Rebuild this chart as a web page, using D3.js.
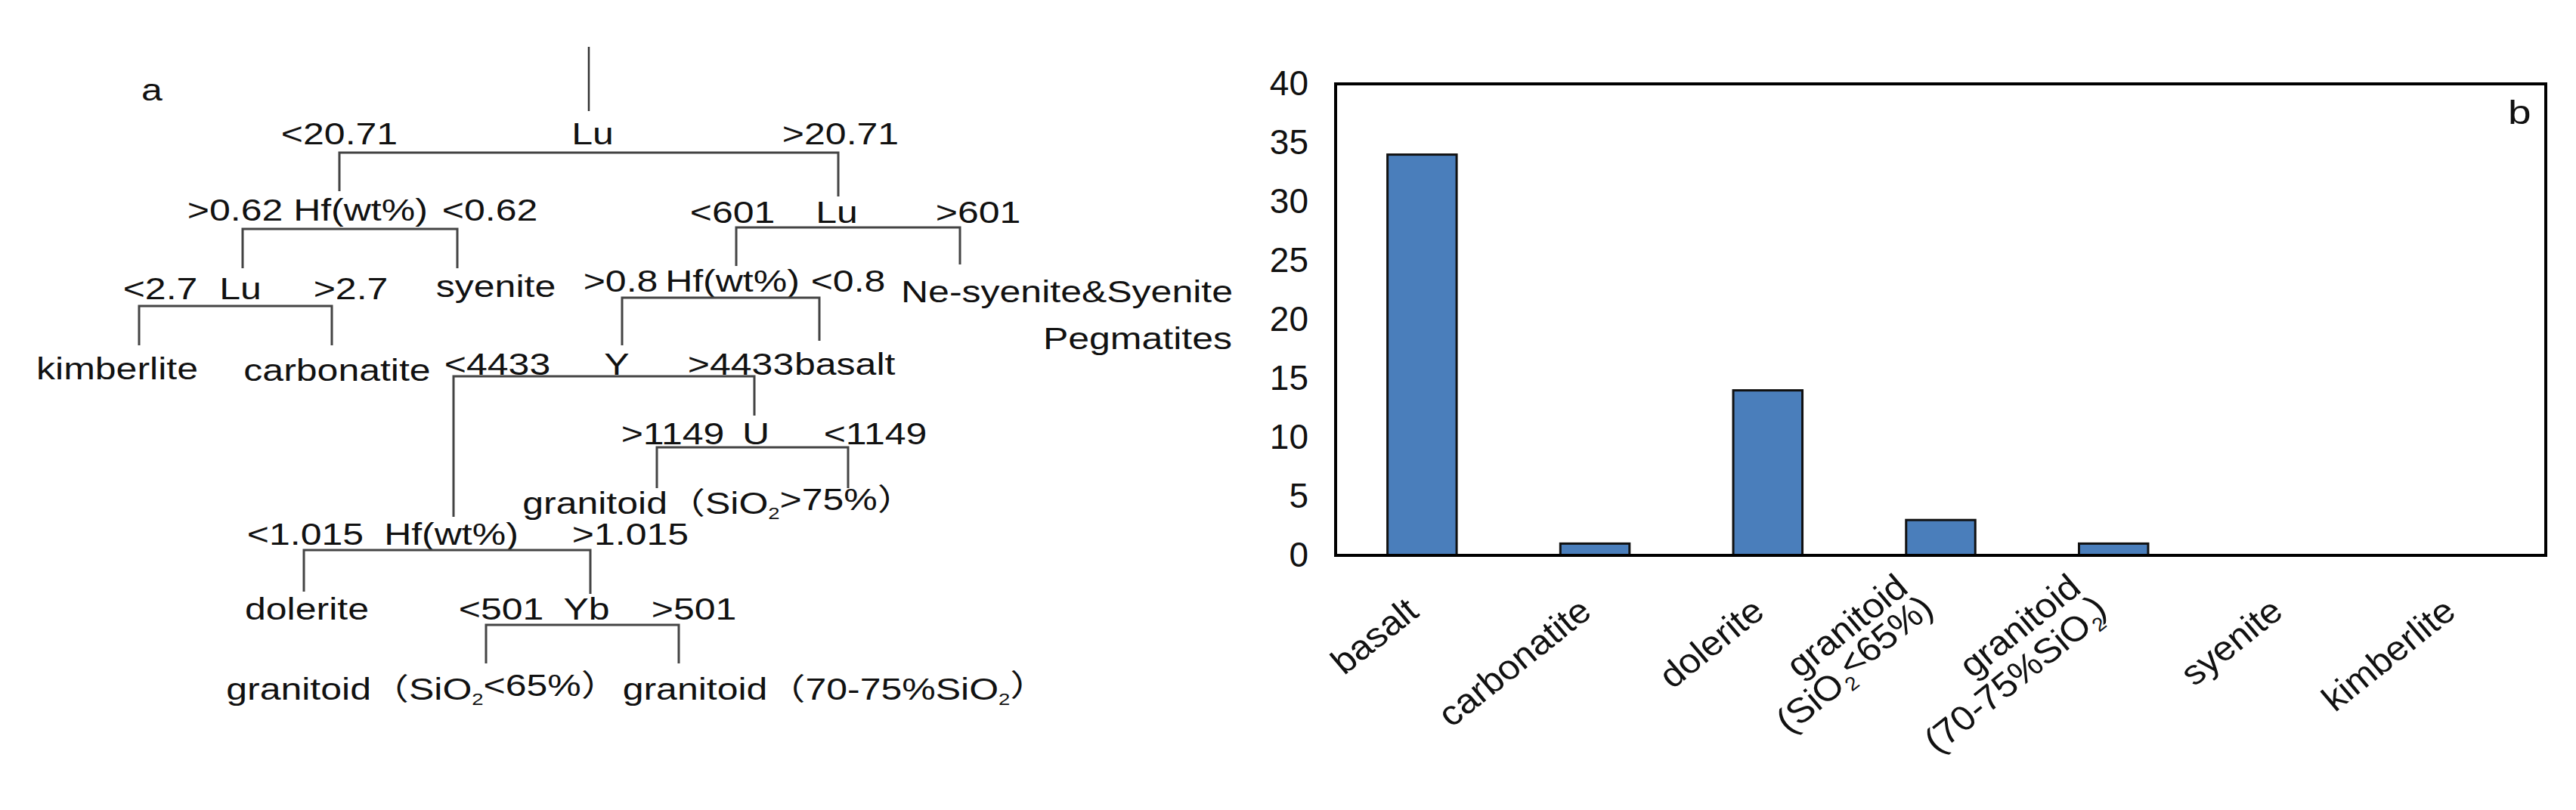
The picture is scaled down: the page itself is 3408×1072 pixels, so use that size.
<!DOCTYPE html>
<html lang="en">
<head>
<meta charset="UTF-8">
<title>Decision tree and zircon classes</title>
<style>
  body { margin: 0; background: #fff; }
  text { font-family: "Liberation Sans", Arial, "Noto Sans CJK SC", sans-serif; fill: #111; }
</style>
</head>
<body>
<svg id="svg" width="3408" height="1072"></svg>
<script src="https://d3js.org/d3.v7.min.js"></script>
<script>
// ---- panel b data
const categories = ['basalt', 'carbonatite', 'dolerite', 'granitoid65', 'granitoid7075', 'syenite', 'kimberlite']
const counts = [34, 1, 14, 3, 1, 0, 0]
const yTicks = [0, 5, 10, 15, 20, 25, 30, 35, 40]
// label lines; [text, subscript, rest]
const catLabels = [
    [['basalt']],
    [['carbonatite']],
    [['dolerite']],
    [['granitoid'], ['(SiO', '2', '<65%)']],
    [['granitoid'], ['(70-75%SiO', '2', ')']],
    [['syenite']],
    [['kimberlite']]
]

// ---- panel a: split nodes of the decision tree
const splits = [
    { name: 'Lu', left: '<20.71', right: '>20.71', nx: 784, lx: 449, rx: 1112, by: 191, hy: 202, x1: 449, x2: 1109, ly: 253, ry: 260 },
    { name: 'Hf(wt%)', left: '>0.62', right: '<0.62', nx: 477, lx: 311, rx: 648, by: 292, hy: 303, x1: 321, x2: 605, ly: 355, ry: 355 },
    { name: 'Lu', left: '<2.7', right: '>2.7', nx: 318, lx: 212, rx: 464, by: 396, hy: 405, x1: 184, x2: 439, ly: 457, ry: 457 },
    { name: 'Lu', left: '<601', right: '>601', nx: 1107, lx: 969, rx: 1294, by: 295, hy: 301, x1: 974, x2: 1270, ly: 352, ry: 350 },
    { name: 'Hf(wt%)', left: '>0.8', right: '<0.8', nx: 969, lx: 821, rx: 1122, by: 386, hy: 394, x1: 823, x2: 1084, ly: 457, ry: 451 },
    { name: 'Y', left: '<4433', right: '>4433', nx: 816, lx: 658, rx: 980, by: 496, hy: 498, x1: 600, x2: 998, ly: 684, ry: 550 },
    { name: 'U', left: '>1149', right: '<1149', nx: 1000, lx: 890, rx: 1158, by: 588, hy: 592, x1: 869, x2: 1122, ly: 646, ry: 646 },
    { name: 'Hf(wt%)', left: '<1.015', right: '>1.015', nx: 597, lx: 404, rx: 834, by: 721, hy: 728, x1: 402, x2: 781, ly: 783, ry: 786 },
    { name: 'Yb', left: '<501', right: '>501', nx: 776, lx: 663, rx: 918, by: 820, hy: 827, x1: 643, x2: 898, ly: 878, ry: 878 }
]
// leaves: text parts [text, subscript, rest], anchor
const leaves = [
    { t: ['syenite'], x: 656, y: 393, a: 'middle' },
    { t: ['kimberlite'], x: 155, y: 502, a: 'middle' },
    { t: ['carbonatite'], x: 446, y: 504, a: 'middle' },
    { t: ['Ne-syenite&Syenite'], x: 1192, y: 400, a: 'start' },
    { t: ['Pegmatites'], x: 1630, y: 462, a: 'end' },
    { t: ['basalt'], x: 1051, y: 496, a: 'start' },
    { t: ['granitoid（SiO', '2', '>75%）'], x: 951, y: 680, a: 'middle' },
    { t: ['dolerite'], x: 406, y: 820, a: 'middle' },
    { t: ['granitoid（SiO', '2', '<65%）'], x: 559, y: 926, a: 'middle' },
    { t: ['granitoid（70-75%SiO', '2', '）'], x: 1105, y: 926, a: 'middle' }
]

const svg = d3.select('#svg')
const treeFont = 40
const stretch = 1.25   // the figure is widened horizontally

function addParts(sel, parts) {
    sel.append('tspan').text(parts[0])
    if (parts.length > 1) {
        sel.append('tspan').attr('font-size', '55%').attr('dy', '0.3em').text(parts[1])
        sel.append('tspan').attr('dy', '-0.3em').text(parts[2])
    }
}

function wideText(parent, x, y, anchor) {
    return parent.append('text')
        .attr('transform', `translate(${x},${y}) scale(${stretch},1)`)
        .attr('font-size', treeFont)
        .attr('text-anchor', anchor)
}

// ---- panel a
const tree = svg.append('g')
wideText(tree, 187, 133, 'start').text('a')
tree.append('line').attr('x1', 779).attr('x2', 779).attr('y1', 62).attr('y2', 147)
    .attr('stroke', '#333').attr('stroke-width', 2.5)

splits.forEach(s => {
    wideText(tree, s.nx, s.by, 'middle').text(s.name)
    wideText(tree, s.lx, s.by, 'middle').text(s.left)
    wideText(tree, s.rx, s.by, 'middle').text(s.right)
    tree.append('path')
        .attr('d', `M${s.x1},${s.ly}V${s.hy}H${s.x2}V${s.ry}`)
        .attr('fill', 'none').attr('stroke', '#444').attr('stroke-width', 3)
})

leaves.forEach(l => {
    addParts(wideText(tree, l.x, l.y, l.a), l.t)
})

// ---- panel b
const m = { left: 1767, right: 3368, top: 111, bottom: 735 }

const xScale = d3.scaleBand()
    .domain(categories)
    .range([m.left, m.right])
    .paddingInner(0.6)
    .paddingOuter(0.3)

const yScale = d3.scaleLinear()
    .domain([0, 40])
    .range([m.bottom, m.top])

svg.append('g')
    .selectAll('rect')
    .data(categories.map((c, i) => ({ c, v: counts[i] })).filter(d => d.v > 0))
    .enter()
    .append('rect')
    .attr('x', d => xScale(d.c))
    .attr('y', d => yScale(d.v))
    .attr('width', xScale.bandwidth())
    .attr('height', d => yScale(0) - yScale(d.v))
    .attr('fill', '#4a7ebb')
    .attr('stroke', '#111')
    .attr('stroke-width', 3)

svg.append('rect')
    .attr('x', m.left).attr('y', m.top)
    .attr('width', m.right - m.left).attr('height', m.bottom - m.top)
    .attr('fill', 'none').attr('stroke', '#000').attr('stroke-width', 4)

const yAxis = svg.append('g')
    .attr('transform', `translate(${m.left},0)`)
    .call(d3.axisLeft(yScale).tickValues(yTicks).tickSize(0).tickPadding(36))
yAxis.select('.domain').remove()
yAxis.selectAll('text').attr('font-size', 46).attr('fill', '#111')
    .style('font-family', '"Liberation Sans", Arial, sans-serif')

svg.append('text').attr('transform', `translate(3318,164) scale(${stretch},1)`)
    .attr('font-size', 44).text('b')

// rotated category labels
categories.forEach((c, i) => {
    const cx = xScale(c) + xScale.bandwidth() / 2
    const lines = catLabels[i]
    const g = svg.append('g').attr('transform', `translate(${cx},${812}) scale(${stretch},1) rotate(-45)`)
    lines.forEach((parts, j) => {
        const t = g.append('text')
            .attr('x', 0)
            .attr('y', (j - lines.length + 1) * 44)
            .attr('text-anchor', 'end')
            .attr('font-size', 43)
            .attr('font-style', 'italic')
        addParts(t, parts)
    })
})
</script>
</body>
</html>
